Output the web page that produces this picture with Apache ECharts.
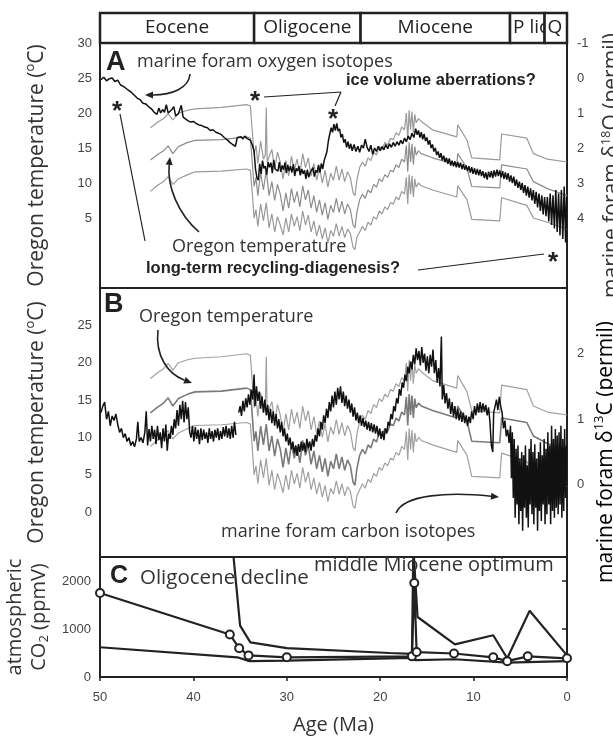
<!DOCTYPE html>
<html>
<head>
<meta charset="utf-8">
<script src="https://cdn.jsdelivr.net/npm/echarts@6/dist/echarts.min.js"></script>
<style>
  html, body { margin: 0; padding: 0; background: #fff; }
  #chart { width: 613px; height: 740px; }
</style>
</head>
<body>
<div id="chart"></div>
<script>
// epochs along the top bar (Ma)
const epochNames = ['Eocene', 'Oligocene', 'Miocene', 'P lio', 'Q']
const epochStart = [50, 33.5, 22.1, 6.1, 2.4]
const epochEnd = [33.5, 22.1, 6.1, 2.4, 0]

// tick labels
const tempTicksA = [5, 10, 15, 20, 25, 30]
const tempTicksB = [0, 5, 10, 15, 20, 25]
const d18OTicks = [-1, 0, 1, 2, 3, 4]
const d13CTicks = [0, 1, 2]
const co2Ticks = [0, 1000, 2000]
const ageTicks = [50, 40, 30, 20, 10, 0]

// marine foram oxygen isotopes [age Ma, d18O permil]
const oxygen = [
  [49.9,0.05],[49.6,-0.02],[49.3,0.08],[49.0,0.02],[48.7,0.0],[48.4,0.1],[48.1,0.06],[47.8,0.2],[47.5,0.24],[47.2,0.3],
  [46.9,0.36],[46.6,0.42],[46.3,0.5],[46.0,0.58],[45.7,0.62],[45.4,0.72],[45.1,0.74],[44.8,0.82],[44.5,0.88],[44.2,0.98],
  [43.9,1.04],[43.7,0.86],[43.5,1.0],[43.3,0.9],[43.1,0.98],[42.9,0.76],[42.7,1.0],[42.5,1.04],[42.3,0.9],[42.1,0.82],
  [41.9,1.08],[41.6,1.02],[41.3,0.78],[41.1,1.12],[40.9,1.16],[40.6,1.22],[40.3,1.26],[40.0,1.24],[39.7,1.3],[39.4,1.34],
  [39.1,1.36],[38.8,1.4],[38.5,1.42],[38.2,1.5],[37.9,1.48],[37.6,1.55],[37.3,1.58],[37.0,1.62],[36.7,1.7],[36.4,1.76],
  [36.1,1.84],[35.8,1.9],[35.5,1.95],[35.3,1.7],[35.1,1.75],[34.9,1.68],[34.7,1.74],[34.5,1.66],[34.3,1.72],[34.1,1.68],
  [33.9,1.78],[33.7,1.9],[33.5,2.1],[33.35,2.6],[33.2,2.85],[33.05,2.92],[32.9,2.45],[32.75,2.74],[32.6,2.36],[32.45,2.58],
  [32.3,2.52],[32.15,2.76],[32.0,2.4],[31.85,2.55],[31.7,2.42],[31.55,2.72],[31.4,2.34],[31.25,2.6],[31.1,2.56],[30.95,2.66],
  [30.8,2.4],[30.65,2.68],[30.5,2.5],[30.35,2.62],[30.2,2.42],[30.05,2.72],[29.9,2.48],[29.75,2.66],[29.6,2.52],[29.45,2.7],
  [29.3,2.46],[29.15,2.8],[29.0,2.58],[28.85,2.66],[28.7,2.52],[28.55,2.78],[28.4,2.6],[28.25,2.74],[28.1,2.64],[27.95,2.88],
  [27.8,2.62],[27.65,2.84],[27.5,2.7],[27.35,2.72],[27.2,2.56],[27.05,2.82],[26.9,2.64],[26.75,2.7],[26.6,2.48],[26.45,2.7],
  [26.3,2.44],[26.15,2.6],[26.0,2.36],[25.85,2.4],[25.7,2.1],[25.55,1.8],[25.4,1.6],[25.25,1.42],[25.1,1.55],[24.95,1.32],
  [24.8,1.5],[24.65,1.3],[24.5,1.52],[24.35,1.45],[24.2,1.7],[24.05,1.6],[23.9,1.85],[23.75,1.75],[23.6,1.98],[23.45,1.82],
  [23.3,2.02],[23.15,1.88],[23.0,2.08],[22.8,1.9],[22.6,2.1],[22.4,1.95],[22.2,2.12],[22.0,1.92],[21.8,2.0],[21.6,1.75],
  [21.4,1.98],[21.2,2.1],[21.0,1.92],[20.8,2.18],[20.6,2.0],[20.4,2.1],[20.2,1.95],[20.0,2.08],[19.8,1.96],[19.6,2.05],
  [19.4,1.9],[19.2,2.02],[19.0,1.88],[18.8,1.98],[18.6,1.84],[18.4,1.95],[18.2,1.82],[18.0,1.92],[17.8,1.78],[17.6,1.88],
  [17.4,1.72],[17.2,1.82],[17.0,1.66],[16.8,1.76],[16.6,1.58],[16.4,1.7],[16.2,1.45],[16.05,1.62],[15.9,1.5],[15.75,1.7],
  [15.6,1.55],[15.45,1.75],[15.3,1.6],[15.15,1.8],[15.0,1.7],[14.85,1.9],[14.7,1.78],[14.55,2.0],[14.4,1.9],[14.25,2.1],
  [14.1,2.0],[13.95,2.2],[13.8,2.1],[13.65,2.28],[13.5,2.15],[13.35,2.35],[13.2,2.22],[13.05,2.4],[12.9,2.28],[12.75,2.45],
  [12.6,2.3],[12.45,2.5],[12.3,2.36],[12.15,2.52],[12.0,2.38],[11.85,2.55],[11.7,2.4],[11.55,2.56],[11.4,2.42],[11.25,2.6],
  [11.1,2.46],[10.95,2.62],[10.8,2.5],[10.65,2.66],[10.5,2.52],[10.35,2.7],[10.2,2.55],[10.05,2.74],[9.9,2.58],[9.75,2.76],
  [9.6,2.6],[9.45,2.78],[9.3,2.62],[9.15,2.8],[9.0,2.66],[8.85,2.86],[8.7,2.7],[8.55,2.9],[8.4,2.68],[8.25,2.84],
  [8.1,2.66],[7.95,2.86],[7.8,2.64],[7.65,2.82],[7.5,2.62],[7.35,2.8],[7.2,2.64],[7.05,2.84],[6.9,2.66],[6.75,2.88],
  [6.6,2.7],[6.45,2.9],[6.3,2.72],[6.15,2.96],[6.0,2.78],[5.85,3.0],[5.7,2.82],[5.55,3.08],[5.4,2.9],[5.25,3.14],
  [5.1,2.96],[4.95,3.2],[4.8,3.0],[4.65,3.28],[4.5,3.06],[4.35,3.36],[4.2,3.1],[4.05,3.42],[3.9,3.15],[3.75,3.5],
  [3.6,3.2],[3.45,3.6],[3.3,3.25],[3.15,3.7],[3.0,3.3],[2.85,3.8],[2.7,3.35],[2.55,3.9],[2.4,3.4],[2.25,3.95],
  [2.1,3.4],[1.95,4.1],[1.8,3.3],[1.65,4.2],[1.5,3.35],[1.35,4.3],[1.2,3.2],[1.05,4.4],[0.9,3.3],[0.75,4.5],
  [0.6,3.2],[0.45,4.6],[0.3,3.1],[0.15,4.7],[0.05,3.4]
]

// marine foram carbon isotopes [age Ma, d13C permil]
const carbon = [
  [49.9,1.1],[49.7,1.2],[49.5,1.26],[49.3,1.0],[49.1,1.12],[48.9,0.9],[48.7,1.05],[48.5,0.98],[48.3,1.08],[48.1,0.92],
  [47.9,0.8],[47.7,0.86],[47.5,0.72],[47.3,0.78],[47.1,0.66],[46.9,0.72],[46.7,0.6],[46.5,0.66],[46.3,0.58],[46.1,0.7],
  [45.95,0.96],[45.8,0.66],[45.6,0.72],[45.4,0.64],[45.2,0.8],[45.05,1.12],[44.9,0.6],[44.75,0.85],[44.6,0.66],[44.45,0.9],
  [44.3,0.7],[44.15,0.84],[44.0,0.62],[43.85,0.9],[43.7,0.68],[43.55,0.8],[43.4,0.56],[43.25,0.86],[43.1,0.66],[42.95,0.92],
  [42.8,0.52],[42.65,0.78],[42.5,0.7],[42.35,0.9],[42.2,0.76],[42.05,1.0],[41.9,0.86],[41.75,1.14],[41.6,0.9],[41.45,1.22],
  [41.3,1.0],[41.15,1.28],[41.0,0.95],[40.85,1.26],[40.7,1.0],[40.55,1.18],[40.4,0.8],[40.25,0.72],[40.1,0.9],[39.95,0.66],
  [39.8,0.88],[39.65,0.7],[39.5,0.84],[39.35,0.62],[39.2,0.86],[39.05,0.68],[38.9,0.84],[38.75,0.7],[38.6,0.8],[38.45,0.64],
  [38.3,0.86],[38.15,0.7],[38.0,0.82],[37.85,0.66],[37.7,0.84],[37.55,0.72],[37.4,0.86],[37.25,0.68],[37.1,0.82],[36.95,0.7],
  [36.8,0.88],[36.65,0.74],[36.5,0.9],[36.35,0.72],[36.2,0.86],[36.05,0.7],[35.9,0.9],[35.75,0.72],[35.6,0.96],[35.45,0.76],
  [35.3,'-'],
  [35.15,1.1],[35.0,1.2],[34.85,1.05],[34.7,1.28],[34.55,1.12],[34.4,1.32],[34.25,1.18],[34.1,1.38],[33.95,1.22],[33.8,1.45],
  [33.65,1.3],[33.5,1.68],[33.4,1.2],[33.25,1.5],[33.1,1.28],[32.95,1.42],[32.8,1.16],[32.65,1.35],[32.5,1.1],[32.35,1.3],
  [32.2,1.06],[32.05,1.22],[31.9,0.98],[31.75,1.16],[31.6,0.94],[31.45,1.12],[31.3,0.9],[31.15,1.08],[31.0,0.86],[30.85,1.0],
  [30.7,0.8],[30.55,0.96],[30.4,0.74],[30.25,0.86],[30.1,0.66],[29.95,0.78],[29.8,0.6],[29.65,0.72],[29.5,0.54],[29.35,0.66],
  [29.2,0.48],[29.05,0.6],[28.9,0.44],[28.75,0.62],[28.6,0.5],[28.45,0.66],[28.3,0.52],[28.15,0.64],[28.0,0.5],[27.85,0.7],
  [27.7,0.56],[27.55,0.66],[27.4,0.52],[27.25,0.7],[27.1,0.58],[26.95,0.76],[26.8,0.66],[26.65,0.86],[26.5,0.74],[26.35,0.96],
  [26.2,0.84],[26.05,1.06],[25.9,0.94],[25.75,1.16],[25.6,1.02],[25.45,1.26],[25.3,1.12],[25.15,1.36],[25.0,1.18],[24.85,1.42],
  [24.7,1.22],[24.55,1.48],[24.4,1.3],[24.25,1.5],[24.1,1.25],[23.95,1.42],[23.8,1.2],[23.65,1.36],[23.5,1.16],[23.35,1.3],
  [23.2,1.1],[23.05,1.24],[22.9,1.04],[22.75,1.18],[22.6,0.98],[22.45,1.1],[22.3,0.94],[22.15,1.06],[22.0,0.9],[21.85,1.02],
  [21.7,0.88],[21.55,0.98],[21.4,0.84],[21.25,0.96],[21.1,0.82],[20.95,0.94],[20.8,0.8],[20.65,0.92],[20.5,0.78],[20.35,0.9],
  [20.2,0.74],[20.05,0.86],[19.9,0.7],[19.75,0.82],[19.6,0.68],[19.45,0.86],[19.3,0.78],[19.15,0.96],[19.0,0.9],[18.85,1.08],
  [18.7,1.0],[18.55,1.2],[18.4,1.12],[18.25,1.32],[18.1,1.24],[17.95,1.46],[17.8,1.36],[17.65,1.56],[17.5,1.48],[17.35,1.68],
  [17.2,1.58],[17.05,1.8],[16.9,1.7],[16.75,1.88],[16.6,1.76],[16.45,1.98],[16.3,1.84],[16.15,2.08],[16.0,1.9],[15.85,2.04],
  [15.7,1.82],[15.55,2.1],[15.4,1.86],[15.25,2.0],[15.1,1.74],[14.95,1.96],[14.8,1.7],[14.65,1.98],[14.5,1.8],[14.35,2.06],
  [14.2,1.7],[14.05,1.9],[13.9,1.56],[13.75,1.78],[13.6,1.5],[13.45,2.26],[13.35,1.3],[13.2,1.52],[13.05,1.24],[12.9,1.4],
  [12.75,1.16],[12.6,1.32],[12.45,1.08],[12.3,1.26],[12.15,1.04],[12.0,1.2],[11.85,1.0],[11.7,1.16],[11.55,0.98],[11.4,1.12],
  [11.25,0.96],[11.1,1.1],[10.95,0.94],[10.8,1.06],[10.65,0.9],[10.5,1.04],[10.35,0.94],[10.2,1.12],[10.05,1.0],[9.9,1.2],
  [9.75,1.06],[9.6,1.24],[9.45,1.1],[9.3,1.26],[9.15,1.1],[9.0,1.24],[8.85,1.12],[8.7,1.22],[8.55,1.06],[8.4,1.18],
  [8.25,0.96],[8.1,0.6],[7.95,0.5],[7.85,1.1],[7.7,1.2],[7.55,1.3],[7.4,1.14],[7.25,1.34],[7.1,1.2],[6.95,1.1],
  [6.8,0.86],[6.65,0.98],[6.5,0.74],[6.35,0.84],[6.2,0.64],[6.05,0.9],[5.95,0.1],[5.85,0.8],[5.75,-0.2],[5.65,0.7],
  [5.55,-0.5],[5.45,0.55],[5.35,-0.3],[5.25,0.6],[5.15,-0.6],[5.05,0.4],[4.95,-0.4],[4.85,0.5],[4.75,-0.7],[4.65,0.45],
  [4.55,-0.35],[4.45,0.6],[4.35,-0.5],[4.25,0.3],[4.15,-0.65],[4.05,0.55],[3.95,-0.3],[3.85,0.7],[3.75,-0.45],[3.65,0.5],
  [3.55,-0.6],[3.45,0.62],[3.35,-0.35],[3.25,0.4],[3.15,-0.7],[3.05,0.5],[2.95,-0.4],[2.85,0.65],[2.75,-0.55],[2.65,0.45],
  [2.55,-0.3],[2.45,0.7],[2.35,-0.6],[2.25,0.55],[2.15,-0.45],[2.05,0.8],[1.95,-0.3],[1.85,0.6],[1.75,-0.6],[1.65,0.9],
  [1.55,-0.4],[1.45,0.7],[1.35,-0.5],[1.25,0.85],[1.15,-0.35],[1.05,0.75],[0.95,-0.45],[0.85,0.8],[0.75,-0.3],[0.65,0.9],
  [0.55,-0.5],[0.45,0.7],[0.35,-0.4],[0.25,0.85],[0.15,-0.2],[0.05,0.6]
]

// Oregon temperature (degC): upper, middle, lower curves
const oregonHigh = [
  [44.6,17.9],[43.9,18.6],[43.2,19.2],[42.7,19.9],[42.2,19.0],[41.6,20.0],[40.6,20.4],[39.8,20.6],[37.0,20.8],[34.3,21.2],
  [33.9,21.0],[33.7,17.5],[33.5,14.0],[33.3,15.4],[33.1,12.8],[32.8,16.0],[32.5,13.4],[32.3,14.0],[32.2,20.8],[32.1,13.0],
  [31.9,12.8],[31.6,14.8],[31.3,12.0],[31.0,14.4],[30.7,13.0],[30.4,10.6],[30.1,13.2],[29.8,11.0],[29.5,13.8],[29.2,11.8],
  [28.9,13.4],[28.6,11.2],[28.3,14.2],[28.0,12.2],[27.7,13.6],[27.4,11.0],[27.1,12.8],[26.8,10.4],[26.5,12.2],[26.2,10.0],
  [25.9,11.8],[25.6,9.4],[25.3,11.4],[25.0,10.4],[24.7,12.4],[24.4,10.4],[24.1,12.0],[23.8,10.2],[23.5,11.6],[23.2,10.8],
  [22.9,8.6],[22.7,8.2],[22.5,10.4],[22.2,12.2],[21.9,13.0],[21.6,12.4],[21.3,13.6],[21.0,13.2],[20.7,14.4],[20.4,14.0],
  [20.1,15.2],[19.8,14.8],[19.5,15.8],[19.2,15.4],[18.9,16.4],[18.6,16.2],[18.3,17.2],[18.0,16.8],[17.7,18.0],[17.4,17.6],
  [17.2,20.0],[17.05,16.2],[16.9,20.4],[16.75,17.6],[16.6,20.2],[16.45,17.2],[16.3,19.8],[16.15,18.6],[15.9,19.2],[15.6,18.8],
  [14.4,17.6],[11.8,16.6],[11.7,18.3],[10.7,16.1],[10.2,13.6],[7.2,13.3],[7.0,17.0],[4.3,16.4],[3.6,14.2],[2.1,13.4],[0,13.0]
]
const oregonMid = [
  [44.6,13.3],[43.9,14.0],[43.2,14.6],[42.7,15.3],[42.2,14.2],[41.6,15.2],[40.6,15.8],[39.8,16.1],[37.0,16.2],[34.3,16.6],
  [33.9,16.4],[33.7,13.0],[33.5,9.5],[33.3,10.8],[33.1,8.2],[32.8,11.5],[32.5,9.0],[32.2,11.8],[31.9,8.2],[31.6,10.2],
  [31.3,7.5],[31.0,9.8],[30.7,8.4],[30.4,6.0],[30.1,8.6],[29.8,6.4],[29.5,9.2],[29.2,7.2],[28.9,8.8],[28.6,6.6],
  [28.3,9.6],[28.0,7.6],[27.7,9.0],[27.4,6.4],[27.1,8.2],[26.8,5.8],[26.5,7.6],[26.2,5.4],[25.9,7.2],[25.6,4.8],
  [25.3,6.8],[25.0,5.8],[24.7,7.8],[24.4,5.8],[24.1,7.4],[23.8,5.6],[23.5,7.0],[23.2,6.2],[22.9,4.0],[22.7,3.6],
  [22.5,5.8],[22.2,7.6],[21.9,8.4],[21.6,7.8],[21.3,9.0],[21.0,8.6],[20.7,9.8],[20.4,9.4],[20.1,10.6],[19.8,10.2],
  [19.5,11.2],[19.2,10.8],[18.9,11.8],[18.6,11.6],[18.3,12.6],[18.0,12.2],[17.7,13.4],[17.4,13.0],[17.2,15.4],[17.05,11.6],
  [16.9,15.8],[16.75,13.0],[16.6,15.6],[16.45,12.6],[16.3,15.2],[16.15,14.0],[15.9,14.6],[15.6,14.2],[14.4,13.6],[11.8,12.6],
  [11.7,14.2],[10.7,12.1],[10.2,9.5],[7.2,9.3],[7.0,12.6],[4.3,12.0],[3.6,10.2],[2.1,9.2],[0,8.2]
]
const oregonLow = [
  [44.6,8.8],[43.9,9.6],[43.2,10.2],[42.7,10.9],[42.2,9.8],[41.6,10.6],[40.6,11.2],[39.8,11.6],[37.0,11.7],[34.3,12.0],
  [33.9,11.8],[33.7,8.6],[33.5,5.0],[33.3,6.2],[33.1,3.8],[32.8,7.0],[32.5,4.6],[32.2,7.2],[31.9,3.6],[31.6,5.6],
  [31.3,3.0],[31.0,5.2],[30.7,4.0],[30.4,2.6],[30.1,5.0],[29.8,3.0],[29.5,5.6],[29.2,3.8],[28.9,5.2],[28.6,3.2],
  [28.3,6.0],[28.0,4.0],[27.7,5.4],[27.4,3.0],[27.1,4.6],[26.8,2.4],[26.5,4.0],[26.2,2.0],[25.9,3.6],[25.6,1.4],
  [25.3,3.2],[25.0,2.4],[24.7,4.2],[24.4,2.4],[24.1,3.8],[23.8,2.2],[23.5,3.4],[23.2,2.8],[22.9,0.8],[22.7,0.5],
  [22.5,2.2],[22.2,3.0],[21.9,3.8],[21.6,3.2],[21.3,4.4],[21.0,4.0],[20.7,5.2],[20.4,4.8],[20.1,6.0],[19.8,5.6],
  [19.5,6.6],[19.2,6.2],[18.9,7.2],[18.6,7.0],[18.3,8.0],[18.0,7.6],[17.7,8.8],[17.4,8.4],[17.2,10.8],[17.05,7.0],
  [16.9,11.2],[16.75,8.4],[16.6,11.0],[16.45,8.0],[16.3,10.6],[16.15,9.4],[15.9,10.0],[15.6,9.6],[14.4,9.0],[11.8,8.0],
  [11.7,9.6],[10.7,7.6],[10.2,4.8],[7.2,4.6],[7.0,7.9],[4.3,6.8],[3.6,5.0],[2.1,4.4],[0,3.4]
]

// atmospheric CO2 (ppmV)
const co2Points = [
  [50,1750],[36.1,886],[35.1,600],[34.1,450],[30.0,410],[16.6,430],[16.35,1960],[16.1,520],[12.1,490],[7.9,410],[6.4,330],[4.2,430],[0,390]
]
const co2Upper = [
  [35.8,2700],[35.0,1070],[33.9,720],[30.0,600],[19.0,500],[16.6,480],[16.45,2700],[16.25,2700],[16.0,1250],[12.0,680],[7.9,870],[6.4,390],[4.0,1380],[0,450]
]
const co2Lower = [
  [50,620],[35.3,410],[34.0,330],[30,340],[16.6,400],[16.2,350],[12,370],[6.4,300],[0,330]
]

const chart = echarts.init(document.getElementById('chart'))

const INK = '#222'
const TXT = '#333'
const tickFont = { fontFamily: 'Liberation Sans', fontSize: 13, color: '#444' }
const nameRich = {
  a: { fontFamily: 'Open Sans', fontSize: 21, color: TXT, lineHeight: 26 },
  sup: { fontFamily: 'Open Sans', fontSize: 13, color: TXT, lineHeight: 26, verticalAlign: 'top' },
  sub: { fontFamily: 'Open Sans', fontSize: 13, color: TXT, lineHeight: 26, verticalAlign: 'bottom' }
}
const co2Rich = {
  a: { fontFamily: 'Open Sans', fontSize: 20, color: TXT, lineHeight: 24 },
  sub: { fontFamily: 'Open Sans', fontSize: 13, color: TXT, lineHeight: 24, verticalAlign: 'bottom' }
}

const gridBase = {
  left: 100, right: 46, show: true, borderColor: INK, borderWidth: 2,
  backgroundColor: 'transparent', outerBoundsMode: 'none', containLabel: false
}

function ageAxis(gridIndex, show) {
  return {
    type: 'value', gridIndex, min: 0, max: 50, inverse: true, show,
    splitLine: { show: false }
  }
}

function line(data, xi, yi, color, width, z) {
  return {
    type: 'line', xAxisIndex: xi, yAxisIndex: yi, data,
    symbol: 'none', showSymbol: false, silent: true, animation: false,
    lineStyle: { color, width }, z: z || 2
  }
}

// annotation helpers
function label(text, x, y, font, extra) {
  return { type: 'text', z: 50, style: Object.assign({ text, x, y, font, fill: TXT, verticalAlign: 'middle' }, extra || {}) }
}
function star(x, y) {
  return { type: 'text', z: 50, style: { text: '*', x, y: y + 7, font: 'bold 26px Liberation Sans', fill: INK, align: 'center', verticalAlign: 'middle' } }
}
function seg(x1, y1, x2, y2) {
  return { type: 'line', z: 50, shape: { x1, y1, x2, y2 }, style: { stroke: INK, lineWidth: 1.2 } }
}
function arrow(p0, c1, c2, p1) {
  const dx = p1[0] - c2[0], dy = p1[1] - c2[1]
  const len = Math.sqrt(dx * dx + dy * dy) || 1
  const ux = dx / len, uy = dy / len
  const head = 8, half = 3.5
  const bx = p1[0] - ux * head, by = p1[1] - uy * head
  return [
    { type: 'bezierCurve', z: 50, shape: { x1: p0[0], y1: p0[1], cpx1: c1[0], cpy1: c1[1], cpx2: c2[0], cpy2: c2[1], x2: bx, y2: by },
      style: { stroke: INK, lineWidth: 1.6, fill: null } },
    { type: 'polygon', z: 50, shape: { points: [[p1[0], p1[1]], [bx - uy * half, by + ux * half], [bx + uy * half, by - ux * half]] },
      style: { fill: INK } }
  ]
}

const sansLabel = '18px Open Sans'
const boldLabel = 'bold 16.5px Liberation Sans'

const graphics = [
  // panel A
  label('A', 106, 63, 'bold 27px Liberation Sans', { fill: INK }),
  label('marine foram oxygen isotopes', 137, 62, sansLabel),
  ...arrow([190, 74], [189, 88], [172, 95], [145, 95]),
  label('ice volume aberrations?', 346, 80, boldLabel, { fill: INK }),
  seg(264, 97, 341, 92), seg(341, 92, 335, 106),
  star(117, 105), star(255, 95), star(333, 113), star(553, 256),
  seg(120, 114, 145, 241),
  label('Oregon temperature', 172, 247, sansLabel),
  label('long-term recycling-diagenesis?', 146, 268, boldLabel, { fill: INK }),
  seg(418, 270, 544, 254),
  ...arrow([199, 232], [178, 214], [167, 186], [170, 157]),
  // panel B
  label('B', 104, 305, 'bold 27px Liberation Sans', { fill: INK }),
  label('Oregon temperature', 139, 317, sansLabel),
  ...arrow([158, 330], [155, 356], [168, 374], [192, 383]),
  label('marine foram carbon isotopes', 221, 532, sansLabel),
  ...arrow([396, 513], [404, 494], [450, 492], [499, 497]),
  // right-hand title of panel B sits lower than the panel centre
  { type: 'text', z: 50, x: 606, y: 452, rotation: Math.PI / 2,
    style: { text: '{a|marine foram δ}{sup|13}{a|C (permil)}', rich: nameRich, align: 'center', verticalAlign: 'middle' } },
  // panel C
  label('C', 110, 576, 'bold 25px Liberation Sans', { fill: INK }),
  label('Oligocene decline', 140, 578, '20.5px Open Sans'),
  label('middle Miocene optimum', 314, 565, '20px Open Sans')
]

const plain = v => String(v)

const option = {
  animation: false,
  backgroundColor: '#fff',
  grid: [
    Object.assign({ top: 13, height: 30 }, gridBase),
    Object.assign({ top: 43, height: 245 }, gridBase),
    Object.assign({ top: 288, height: 269 }, gridBase),
    Object.assign({ top: 557, height: 120 }, gridBase)
  ],
  xAxis: [
    ageAxis(0, false),
    ageAxis(1, false),
    ageAxis(2, false),
    Object.assign(ageAxis(3, true), {
      axisLine: { show: true, lineStyle: { color: INK, width: 2 } },
      axisTick: { show: true, length: 4, lineStyle: { color: INK, width: 1.5 }, customValues: ageTicks },
      axisLabel: Object.assign({ margin: 14, customValues: ageTicks, formatter: plain }, tickFont),
      name: 'Age (Ma)', nameLocation: 'middle', nameGap: 38,
      nameTextStyle: { fontFamily: 'Open Sans', fontSize: 20, color: TXT }
    })
  ],
  yAxis: [
    { type: 'value', gridIndex: 0, min: 0, max: 1, show: false },
    {
      type: 'value', gridIndex: 1, min: -5, max: 30,
      axisLine: { show: false }, axisTick: { show: false }, splitLine: { show: false },
      axisLabel: Object.assign({ margin: 8, customValues: tempTicksA, formatter: plain }, tickFont),
      name: '{a|Oregon temperature (}{sup|o}{a|C)}', nameLocation: 'middle', nameGap: 50,
      nameTextStyle: { rich: nameRich }
    },
    {
      type: 'value', gridIndex: 1, position: 'right', inverse: true, min: -1, max: 6,
      axisLine: { show: false }, axisTick: { show: false }, splitLine: { show: false },
      axisLabel: Object.assign({ margin: 10, customValues: d18OTicks, formatter: plain }, tickFont),
      name: '{a|marine foram δ}{sup|18}{a|O (permil)}', nameLocation: 'middle', nameGap: 26,
      nameTextStyle: { rich: nameRich }
    },
    {
      type: 'value', gridIndex: 2, min: -6, max: 30,
      axisLine: { show: false }, axisTick: { show: false }, splitLine: { show: false },
      axisLabel: Object.assign({ margin: 8, customValues: tempTicksB, formatter: plain }, tickFont),
      name: '{a|Oregon temperature (}{sup|o}{a|C)}', nameLocation: 'middle', nameGap: 50,
      nameTextStyle: { rich: nameRich }
    },
    {
      type: 'value', gridIndex: 2, position: 'right', min: -1.1, max: 3,
      axisLine: { show: false }, axisTick: { show: false }, splitLine: { show: false },
      axisLabel: Object.assign({ margin: 10, customValues: d13CTicks, formatter: plain }, tickFont)
    },
    {
      type: 'value', gridIndex: 3, min: 0, max: 2500,
      axisLine: { show: false }, splitLine: { show: false },
      axisTick: { show: true, length: 5, lineStyle: { color: INK, width: 1.5 }, customValues: co2Ticks },
      axisLabel: Object.assign({ margin: 9, customValues: co2Ticks, formatter: plain }, tickFont),
      name: '{a|atmospheric}\n{a|CO}{sub|2}{a| (ppmV)}', nameLocation: 'middle', nameGap: 42,
      nameTextStyle: { rich: co2Rich }
    }
  ],
  series: [
    {
      type: 'custom', xAxisIndex: 0, yAxisIndex: 0, silent: true,
      data: epochStart.map((s, i) => [s, epochEnd[i], i]),
      renderItem(params, api) {
        const a = api.coord([api.value(0), 0])[0]
        const b = api.coord([api.value(1), 0])[0]
        const x0 = Math.min(a, b), w = Math.abs(b - a)
        const cs = params.coordSys
        const name = epochNames[api.value(2)]
        const narrow = w < 40
        return {
          type: 'group',
          children: [
            { type: 'rect', shape: { x: x0, y: cs.y, width: w, height: cs.height }, style: { fill: '#fff', stroke: INK, lineWidth: 2.5 } },
            { type: 'text', style: {
                text: name, x: narrow ? x0 + 3 : x0 + w / 2, y: cs.y + cs.height / 2,
                align: narrow ? 'left' : 'center', verticalAlign: 'middle',
                font: '19px Open Sans', fill: INK } }
          ]
        }
      }
    },
    // panel A
    line(oregonHigh, 1, 1, '#9a9a9a', 1.2),
    line(oregonMid, 1, 1, '#8c8c8c', 1.2),
    line(oregonLow, 1, 1, '#9a9a9a', 1.2),
    line(oxygen, 1, 2, '#111', 1.5, 3),
    // panel B
    line(oregonHigh, 2, 3, '#a0a0a0', 1.2),
    line(oregonMid, 2, 3, '#7a7a7a', 1.6),
    line(oregonLow, 2, 3, '#a0a0a0', 1.2),
    line(carbon, 2, 4, '#111', 1.5, 3),
    // panel C
    line(co2Upper, 3, 5, INK, 2.2),
    line(co2Lower, 3, 5, INK, 2.2),
    {
      type: 'line', xAxisIndex: 3, yAxisIndex: 5, data: co2Points, silent: true, animation: false,
      symbol: 'circle', symbolSize: 8, showSymbol: true, z: 4,
      lineStyle: { color: INK, width: 2.2 },
      itemStyle: { color: '#fff', borderColor: INK, borderWidth: 2 }
    }
  ],
  graphic: graphics
}

chart.setOption(option)
</script>
</body>
</html>
